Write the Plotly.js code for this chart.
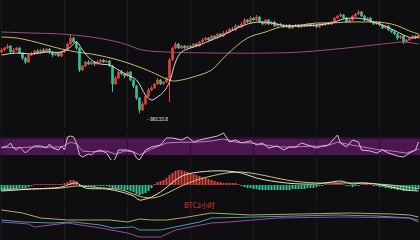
<!DOCTYPE html>
<html><head><meta charset="utf-8">
<script src="https://cdn.plot.ly/plotly-3.0.1.min.js"></script>
<style>html,body{margin:0;padding:0;background:#0e0e10;}#c{width:420px;height:240px;}</style>
</head><body><div id="c"></div>
<script>
// ---- candles (2h BTC) ----
const opens = [103040,103200,103360,103520,103040,103200,103360,102960,102560,102240,
102800,102880,103120,102960,103200,103040,103280,103040,102800,102960,
102720,103040,103200,103680,104160,103840,103360,101600,101920,102240,
102080,102240,102080,102240,102400,102240,102320,101920,100480,100960,
101440,101280,101120,101440,100800,100320,99360,98400,98880,99520,
100000,100160,100480,100800,100480,100640,100960,102400,103360,103680,
103360,103520,103360,103520,103440,103680,103520,103840,104000,104160,
104000,104320,104160,104480,104320,104560,104640,104880,104800,105120,
105040,105280,105600,105440,105760,105600,105840,105440,105280,105600,
105280,105440,105120,105280,105200,105040,105200,104960,105120,105200,
105040,105200,105120,105280,105120,105200,105040,105280,105200,105360,
105280,105440,105760,105920,106000,105760,105440,105600,105920,106080,
106240,105920,105600,105760,105440,105280,105440,105200,104960,105120,
104800,104640,104480,104160,104320,103840,104000,104160,104320,104160];
const closes = [103200,103360,103520,103040,103200,103360,102960,102560,102240,102800,
102880,103120,102960,103200,103040,103280,103040,102800,102960,102720,
103040,103200,103680,104160,103840,103360,101600,101920,102240,102080,
102240,102080,102240,102400,102240,102320,101920,100480,100960,101440,
101280,101120,101440,100800,100320,99360,98400,98880,99520,100000,
100160,100480,100800,100480,100640,100960,102400,103360,103680,103360,
103520,103360,103520,103440,103680,103520,103840,104000,104160,104000,
104320,104160,104480,104320,104560,104640,104880,104800,105120,105040,
105280,105600,105440,105760,105600,105840,105440,105280,105600,105280,
105440,105120,105280,105200,105040,105200,104960,105120,105200,105040,
105200,105120,105280,105120,105200,105040,105280,105200,105360,105280,
105440,105760,105920,106000,105760,105440,105600,105920,106080,106240,
105920,105600,105760,105440,105280,105440,105200,104960,105120,104800,
104640,104480,104160,104320,103840,104000,104160,104320,104160,104400];
const highs = [103360,103440,103680,103600,103360,103440,103440,103040,102640,102880,
103040,103200,103280,103280,103360,103360,103360,103120,103040,103040,
103120,103280,103760,104480,104240,103920,103440,102000,102320,102400,
102320,102320,102400,102480,102480,102400,102400,102000,101120,101520,
101600,101360,101520,101520,100880,100400,99440,99040,99600,100160,
100320,100560,100960,100880,100720,101040,102560,103440,103840,103760,
103600,103600,103600,103600,103760,103760,103920,104160,104240,104240,
104400,104400,104560,104560,104720,104800,104960,105040,105280,105200,
105440,105760,105680,105920,105840,106000,105920,105520,105680,105680,
105520,105520,105360,105360,105280,105280,105280,105200,105280,105280,
105280,105280,105360,105360,105280,105280,105360,105360,105440,105440,
105520,105840,106000,106160,106080,105840,105680,106000,106160,106400,
106320,106000,105840,105840,105520,105520,105520,105280,105200,105200,
104880,104720,104560,104400,104400,104080,104240,104400,104400,104480];
const lows = [102960,103120,103280,102960,102880,103120,102880,102400,102080,102160,
102720,102800,102880,102880,102960,102960,102880,102640,102720,102640,
102640,102960,103120,103600,103760,103200,101440,101520,101840,102000,
102000,101920,102000,102160,102160,102160,101840,99840,100400,100880,
101200,100960,101040,100720,100160,99200,98133.8,98320,98800,99440,
99920,100080,100400,100400,100400,100560,99040,102320,103280,103280,
103280,103280,103280,103360,103360,103440,103440,103760,103920,103920,
103920,104080,104080,104240,104240,104480,104560,104720,104720,104960,
104960,105200,105360,105360,105520,105520,105360,105200,105200,105200,
105200,105040,105040,105120,104960,104960,104880,104880,105040,104960,
104960,105040,105040,105040,105040,104960,104960,105120,105120,105200,
105200,105360,105680,105840,105680,105360,105360,105520,105840,106000,
105840,105520,105520,105360,105200,105200,105120,104880,104880,104720,
104560,104400,104000,104080,103680,103760,103920,104080,104080,104080];
const lowLabel = '98133.8';
const lowIndex = 46;
const lowValue = 98133.8;

// ---- moving averages (sampled at candle indexes) ----
const maShortIdx = [0,5,10,15,20,23,25,27,30,33,36,39,42,45,48,50,52,54,56,58,60,63,66,70,74,78,82,86,90,95,100,105,110,114,118,122,126,130,134,137,139];
const maShort = [102800,102960,102880,103040,103040,103440,103840,103200,102400,102080,102000,101600,101200,100800,99600,99200,99440,99840,100640,102240,103040,103360,103600,104000,104400,104880,105280,105440,105360,105120,105120,105200,105360,105680,105760,105600,105280,104880,104400,104160,104240];
const maMidIdx = [0,5,10,15,20,25,30,35,40,45,50,55,57,60,65,70,75,82,88,93,100,105,110,115,120,125,130,133,136,139];
const maMid = [104240,104160,103920,103600,103280,103040,102880,102640,102320,101920,101440,100880,100720,100800,101120,101600,102800,104160,104640,105040,105200,105360,105360,105440,105440,105440,105280,105040,104720,104480];
const maLongIdx = [0,10,20,30,40,47,55,70,90,100,115,130,134,139];
const maLong = [104640,104560,104480,104240,103760,103200,103040,102960,102960,103040,103360,103760,103840,103680];

// ---- RSI ----
const rsiFastIdx = [0,2,3,4,5,6,8,9,11,13,15,16,17,19,20,21,22,23,24,25,26,27,29,30,31,33,35,36,37,38,39,42,44,45,46,48,50,53,55,57,60,62,64,66,69,72,74,76,78,80,83,85,87,89,92,94,96,98,100,103,105,107,109,112,113,115,117,119,120,123,125,127,129,132,134,136,138,139];
const rsiFast = [47.5,52.5,60,47.5,42.5,50,35,42.5,52.5,52.5,47.5,57.5,47.5,42.5,52.5,42.5,75,77.5,75,60,30,25,32.5,30,37.5,42.5,35,22.5,12.5,22.5,42.5,42.5,37.5,22.5,17.5,42.5,50,55,72.5,72.5,67.5,75,62.5,67.5,72.5,77.5,85,62.5,67.5,60,65,55,60,47.5,52.5,42.5,50,50,60,52.5,47.5,52.5,55,80,60,50,67.5,62.5,42.5,40,35,42.5,35,27.5,25,35,42.5,62.5];
const rsiSlowIdx = [0,5,10,15,20,23,25,27,30,35,38,41,44,46,50,55,60,65,70,74,78,83,88,93,98,103,108,112,116,120,125,130,135,139];
const rsiSlow = [50,48,50,50,50,62,58,40,38,40,32,40,38,30,45,60,62,62,65,70,62,60,55,50,50,52,52,62,56,50,44,40,35,45];

// ---- MACD ----
const macdHist = [-120,-120,-100,-100,-80,-80,-60,-60,-60,-40,
-20,20,20,20,20,20,20,20,20,20,
20,40,60,100,100,80,-20,-40,-40,-40,
-40,-40,-20,-20,-20,-20,-40,-80,-80,-80,
-80,-100,-100,-120,-140,-180,-200,-180,-160,-120,
-60,20,60,80,100,140,200,240,280,300,
300,280,260,240,220,200,180,160,140,120,
100,80,60,60,40,40,40,40,40,20,
-20,-40,-60,-60,-80,-80,-100,-100,-100,-100,
-100,-100,-100,-100,-100,-100,-100,-80,-80,-80,
-80,-80,-60,-60,-60,-40,-20,-20,20,20,
20,40,40,40,20,-20,-20,-40,-20,-20,
20,20,20,20,-20,-20,-40,-40,-60,-60,
-80,-80,-100,-100,-120,-120,-120,-100,-100,-80];
const deaIdx = [0,10,20,25,30,40,44,47,50,53,56,60,65,70,75,80,85,90,95,100,105,110,115,120,125,130,135,139];
const dea = [-80,-80,-60,-20,-40,-100,-180,-240,-260,-220,-140,-20,100,180,240,260,220,160,100,60,40,40,40,40,20,0,-40,-80];
const difIdx = [0,10,20,23,25,28,35,40,44,46,48,50,53,56,59,62,66,70,75,80,85,90,95,100,105,110,113,117,120,125,130,135,139];
const dif = [-120,-80,-40,20,40,-60,-80,-140,-220,-300,-280,-240,-140,0,140,220,260,280,280,240,140,80,40,20,20,60,80,20,40,20,-40,-100,-120];

// ---- lower indicator ----
const lowAIdx = [0,7,13,22,30,36,42,46,50,55,60,66,70,83,100,112,116,130,136,139];
const lowA = [60,54,44,40,40,40,36,42,40,40,44,50,54,50,52,54,54,52,50,46];
const lowBIdx = [0,7,17,24,33,37,44,46,53,58,66,70,83,100,112,125,136,139];
const lowB = [40,36,34,36,30,24,26,20,20,26,36,44,46,48,50,48,44,36];
const lowCIdx = [0,9,11,22,33,42,46,53,58,66,70,76,92,114,130,136,139];
const lowC = [36,32,26,34,24,14,6,6,20,30,34,36,44,46,44,44,40];

const chartTitle = 'BTC2小时';

const idx = opens.map((_, i) => i);
const UP = '#e0463e', DN = '#33c497';

const traces = [
  {type:'candlestick', x: idx, open: opens, high: highs, low: lows, close: closes,
   xaxis:'x', yaxis:'y', whiskerwidth:0,
   increasing:{line:{color:UP,width:1}, fillcolor:UP},
   decreasing:{line:{color:DN,width:1}, fillcolor:DN}, showlegend:false},
  {type:'scatter', mode:'lines', x: maLongIdx, y: maLong, yaxis:'y', line:{color:'#9c4c78',width:1,shape:'spline'}},
  {type:'scatter', mode:'lines', x: maMidIdx, y: maMid, yaxis:'y', line:{color:'#c8b868',width:1,shape:'spline'}},
  {type:'scatter', mode:'lines', x: maShortIdx, y: maShort, yaxis:'y', line:{color:'#d6d6d6',width:1,shape:'spline'}},
  {type:'scatter', mode:'lines', x: rsiSlowIdx, y: rsiSlow, yaxis:'y2', line:{color:'#d070c8',width:1}},
  {type:'scatter', mode:'lines', x: rsiFastIdx, y: rsiFast, yaxis:'y2', line:{color:'#cfc4cc',width:1}},
  {type:'bar', x: idx, y: macdHist, yaxis:'y3', marker:{color: macdHist.map(v => v >= 0 ? UP : DN), line:{width:0}}},
  {type:'scatter', mode:'lines', x: deaIdx, y: dea, yaxis:'y3', line:{color:'#c8c070',width:1,shape:'spline'}},
  {type:'scatter', mode:'lines', x: difIdx, y: dif, yaxis:'y3', line:{color:'#e0dcd0',width:1,shape:'spline'}},
  {type:'scatter', mode:'lines', x: lowCIdx, y: lowC, yaxis:'y4', line:{color:'#9a4a9a',width:1}},
  {type:'scatter', mode:'lines', x: lowBIdx, y: lowB, yaxis:'y4', line:{color:'#4f9aa8',width:1}},
  {type:'scatter', mode:'lines', x: lowAIdx, y: lowA, yaxis:'y4', line:{color:'#b0a860',width:1}}
];

const hidden = {showticklabels:false, showgrid:false, zeroline:false, showline:false, ticks:''};
const layout = {
  width:420, height:240, margin:{l:0,r:0,t:0,b:0},
  paper_bgcolor:'#0e0e10', plot_bgcolor:'#0e0e10',
  showlegend:false, hovermode:false, bargap:0.35,
  xaxis: {range:[-0.5,139.5], showticklabels:false, showgrid:true, gridcolor:'#1c1c1e', gridwidth:1,
          tick0:0, dtick:21, zeroline:false, showline:false, ticks:'', rangeslider:{visible:false}},
  yaxis: Object.assign({domain:[0.4667,1], range:[96960,107200]}, hidden),
  yaxis2: Object.assign({domain:[0.3208,0.4542], range:[10,90]}, hidden),
  yaxis3: Object.assign({domain:[0.1583,0.3333], range:[-340,500]}, hidden),
  yaxis4: Object.assign({domain:[0,0.1542], range:[0,74]}, hidden),
  shapes: [
    {type:'rect', xref:'paper', yref:'y2', x0:0, x1:1, y0:30, y1:70, fillcolor:'#4a1750', line:{width:0}, layer:'below'},
    {type:'rect', xref:'paper', yref:'y2', x0:0, x1:1, y0:70, y1:75, fillcolor:'#2a0f2e', line:{width:0}, layer:'below'}
  ],
  annotations: [
    {x: lowIndex, y: lowValue, xref:'x', yref:'y', text:'- ' + lowLabel, showarrow:false,
     xanchor:'left', yanchor:'middle', xshift:5, yshift:-6,
     font:{family:'Liberation Sans, Arial', size:5, color:'#e0e0e0'}},
    {x: 0.476, y: 0.146, xref:'paper', yref:'paper', text: chartTitle, showarrow:false,
     xanchor:'center', yanchor:'middle',
     font:{family:'Noto Sans CJK SC, sans-serif', size:7, color:'#d83a36'}}
  ]
};
Plotly.newPlot('c', traces, layout, {staticPlot:true, displayModeBar:false});
</script></body></html>
